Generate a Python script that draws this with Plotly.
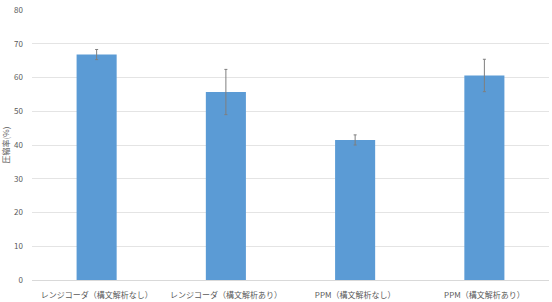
import plotly.graph_objects as go

categories = ["レンジコーダ（構文解析なし）", "レンジコーダ（構文解析あり）", "PPM（構文解析なし）", "PPM（構文解析あり）"]
values = [66.8, 55.7, 41.5, 60.6]
errors = [1.5, 6.7, 1.5, 4.8]
y_ticks = [0, 10, 20, 30, 40, 50, 60, 70, 80]

fig = go.Figure(go.Bar(
    x=categories, y=values,
    marker=dict(color="#5B9BD5", line=dict(width=0)),
    width=0.31,
    error_y=dict(type="data", array=errors, visible=True, color="#7F7F7F", thickness=1, width=1.5),
))

fig.update_layout(
    width=552, height=302,
    margin=dict(l=32, r=3, t=10, b=22),
    paper_bgcolor="white", plot_bgcolor="white",
    font=dict(family="Noto Sans CJK JP", size=8, color="#595959"),
    showlegend=False,
    xaxis=dict(showgrid=False, showline=True, linecolor="#D9D9D9", linewidth=1, automargin=False,
               ticks="", ticklabelstandoff=7, tickfont=dict(size=8, color="#595959")),
    yaxis=dict(range=[0, 80], tickvals=y_ticks, showgrid=True, gridcolor="#E4E4E4", gridwidth=1,
               zeroline=False, showline=False, ticks="", ticklabelstandoff=8, automargin=False,
               tickfont=dict(size=8, color="#595959"),
               title=dict(text="圧縮率(%)", font=dict(size=8, color="#595959"), standoff=6)),
)

fig.write_html("out.html")
